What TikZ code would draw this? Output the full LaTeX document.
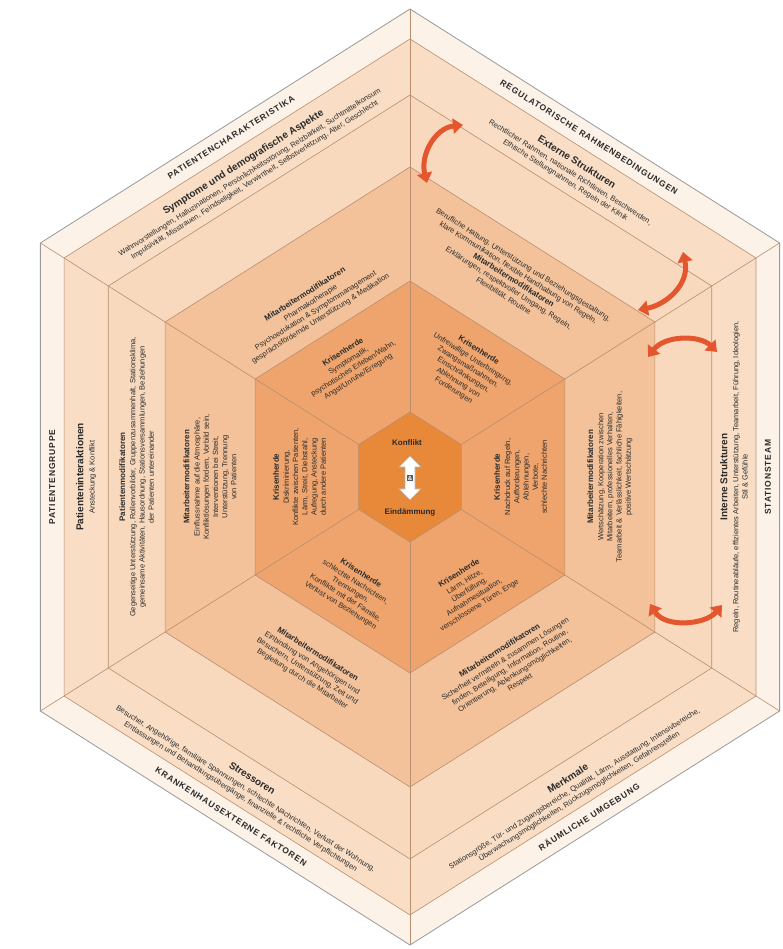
\documentclass[tikz,border=0pt]{standalone}
\usepackage{fontspec}
\setmainfont{Liberation Sans}
\newfontfamily\catfont[LetterSpace=10]{Liberation Sans}
\usetikzlibrary{arrows.meta}
\definecolor{bandA}{HTML}{FDF2E8}
\definecolor{bandB}{HTML}{F9DEC5}
\definecolor{bandC}{HTML}{F8D9BE}
\definecolor{bandD}{HTML}{F3C29A}
\definecolor{bandE}{HTML}{EEA46C}
\definecolor{bandF}{HTML}{E8893A}
\definecolor{edgeC}{HTML}{B98E6E}
\definecolor{txtC}{HTML}{2A2A2A}
\definecolor{arrC}{HTML}{E4572E}
\newcommand\secnode[6]{\node[#5,rotate=#3] (#4) at ({0.79*(#2)*cos(#1)},{0.866*(#2)*sin(#1)}) {#6};}
\newcommand\ttlA[1]{{\fontsize{10}{12}\selectfont\bfseries #1}}
\newcommand\ttlB[1]{{\fontsize{8}{10}\selectfont\bfseries #1}}
\begin{document}
\begin{tikzpicture}[x=1pt,y=1pt,
  cat/.style={font=\catfont\bfseries\fontsize{8.5}{10}\selectfont,text=txtC,inner sep=0pt},
  blk/.style={align=center,font=\fontsize{7.5}{9.2}\selectfont,text=txtC,inner sep=0pt},
  hexline/.style={draw=edgeC,line width=0.6pt},
  swoosh/.style={draw=arrC,line width=5pt,{Triangle[width=15pt,length=10pt]}-{Triangle[width=15pt,length=10pt]}}
]
\useasboundingbox (0,0) rectangle (782,949);
\fill[white] (0,0) rectangle (782,949);
\begin{scope}[shift={(410,472)}]
\foreach \rad/\nn in {468/a,438/b,382/c,310/d,196/e,65/f}{
  \foreach \angv/\idx in {90/1,150/2,210/3,270/4,330/5,30/6}{
    \coordinate (\nn\idx) at ({0.912*\rad*cos(\angv)},{\rad*sin(\angv)});
  }
}
\fill[bandA] (a1)--(a2)--(a3)--(a4)--(a5)--(a6)--cycle;
\fill[bandB] (b1)--(b2)--(b3)--(b4)--(b5)--(b6)--cycle;
\fill[bandC] (c1)--(c2)--(c3)--(c4)--(c5)--(c6)--cycle;
\fill[bandD] (d1)--(d2)--(d3)--(d4)--(d5)--(d6)--cycle;
\fill[bandE] (e1)--(e2)--(e3)--(e4)--(e5)--(e6)--cycle;
\fill[bandF] (f1)--(f2)--(f3)--(f4)--(f5)--(f6)--cycle;
\draw[hexline] (b1)--(b2)--(b3)--(b4)--(b5)--(b6)--cycle;
\draw[hexline] (c1)--(c2)--(c3)--(c4)--(c5)--(c6)--cycle;
\draw[hexline] (d1)--(d2)--(d3)--(d4)--(d5)--(d6)--cycle;
\draw[hexline] (e1)--(e2)--(e3)--(e4)--(e5)--(e6)--cycle;
\draw[hexline] (f1)--(f2)--(f3)--(f4)--(f5)--(f6)--cycle;
\foreach \idx in {1,...,6}{\draw[hexline] (f\idx) -- (a\idx);}
\draw[gray!80,line width=0.8pt] (a1)--(a2)--(a3)--(a4)--(a5)--(a6)--cycle;

% ---------- top-left
\secnode{120}{453}{32.3}{catTL}{cat}{PATIENTENCHARAKTERISTIKA}
\secnode{120}{408}{32.3}{subTL}{blk}{\ttlA{Symptome und demografische Aspekte}\\[2pt]
Wahnvorstellungen, Halluzinationen, Persönlichkeitsstörung, Reizbarkeit, Suchtmittelkonsum\\
Impulsivität, Misstrauen, Feindseligkeit, Verwirrtheit, Selbstverletzung, Alter, Geschlecht}
\secnode{122}{232}{32.3}{maTL}{blk}{\ttlB{Mitarbeitermodifikatoren}\\[1pt]
Pharmakotherapie\\Psychoedukation \& Symptommanagement\\gesprächsfördernde Unterstützung \& Medikation}
\secnode{120}{150}{32.3}{khTL}{blk}{\ttlB{Krisenherde}\\[1pt]
Symptomatik,\\psychotisches Erleben/Wahn,\\Angst/Unruhe/Erregung}

% ---------- top-right
\secnode{60}{453}{-32.3}{catTR}{cat}{REGULATORISCHE RAHMENBEDINGUNGEN}
\secnode{60}{408}{-32.3}{subTR}{blk}{\ttlA{Externe Strukturen}\\[2pt]
Rechtlicher Rahmen, nationale Richtlinien, Beschwerden,\\
Ethische Stellungnahmen, Regeln der Klinik}
\secnode{60}{262}{-32.3}{maTR}{blk}{Berufliche Haltung, Unterstützung und Beziehungsgestaltung,\\
klare Kommunikation, flexible Handhabung von Regeln,\\
\ttlB{Mitarbeitermodifikatoren}\\
Erklärungen, respektvoller Umgang, Regeln,\\
Flexibilität, Routine}
\secnode{60}{142}{-32.3}{khTR}{blk}{\ttlB{Krisenherde}\\[1pt]
Unfreiwillige Unterbringung,\\Zwangsmaßnahmen,\\Einschränkungen,\\Ablehnung von\\Forderungen}

% ---------- right
\secnode{0}{453}{90}{catR}{cat}{STATIONSTEAM}
\secnode{0}{410}{90}{subR}{blk}{\ttlA{Interne Strukturen}\\[2pt]
Regeln, Routineabläufe, effizientes Arbeiten, Unterstützung, Teamarbeit, Führung, Ideologien,\\
Stil \& Gefühle}
\secnode{0}{253}{90}{maR}{blk}{\ttlB{Mitarbeitermodifikatoren}\\[1pt]
Wertschätzung, Kooperation zwischen\\Mitarbeitern, professionelles Verhalten,\\
Teamarbeit \& Verlässlichkeit, fachliche Fähigkeiten,\\positive Wertschätzung}
\secnode{0}{140}{90}{khR}{blk}{\ttlB{Krisenherde}\\[1pt]
Nachdruck auf Regeln,\\Aufforderungen,\\Ablehnungen,\\Verbote,\\schlechte Nachrichten}

% ---------- bottom-right
\secnode{-60}{453}{32.3}{catBR}{cat}{RÄUMLICHE UMGEBUNG}
\secnode{-60}{414}{32.3}{subBR}{blk}{\ttlA{Merkmale}\\[2pt]
Stationsgröße, Tür- und Zugangsbereiche, Qualität, Lärm, Ausstattung, Intensivbereiche,\\
Überwachungsmöglichkeiten, Rückzugsmöglichkeiten, Gefahrenstellen}
\secnode{-60}{253}{32.3}{maBR}{blk}{\ttlB{Mitarbeitermodifikatoren}\\[1pt]
Sicherheit vermitteln \& zusammen Lösungen\\finden, Beteiligung, Information, Routine,\\
Orientierung, Ablenkungsmöglichkeiten,\\Respekt}
\secnode{-60}{150}{32.3}{khBR}{blk}{\ttlB{Krisenherde}\\[1pt]
Lärm, Hitze,\\Überfüllung,\\Aufnahmesituation,\\verschlossene Türen, Enge}

% ---------- bottom-left
\secnode{-120}{453}{-32.3}{catBL}{cat}{KRANKENHAUSEXTERNE FAKTOREN}
\secnode{-120}{414}{-32.3}{subBL}{blk}{\ttlA{Stressoren}\\[2pt]
Besucher, Angehörige, familiäre Spannungen, schlechte Nachrichten, Verlust der Wohnung,\\
Entlassungen und Behandlungsübergänge, finanzielle \& rechtliche Verpflichtungen}
\secnode{-120}{253}{-32.3}{maBL}{blk}{\ttlB{Mitarbeitermodifikatoren}\\[1pt]
Einbindung von Angehörigen und\\Besuchern, Unterstützung, Zeit und\\Begleitung durch die Mitarbeiter}
\secnode{-120}{150}{-32.3}{khBL}{blk}{\ttlB{Krisenherde}\\[1pt]
schlechte Nachrichten,\\Trennungen,\\Konflikte mit der Familie,\\Verlust von Beziehungen}

% ---------- left
\secnode{180}{453}{90}{catL}{cat}{PATIENTENGRUPPE}
\secnode{180}{410}{90}{subL}{blk}{\ttlA{Patienteninteraktionen}\\[2pt]Ansteckung \& Konflikt}
\secnode{180}{346}{90}{pmL}{blk}{\ttlB{Patientenmodifikatoren}\\[1pt]
Gegenseitige Unterstützung, Rollenvorbilder, Gruppenzusammenhalt, Stationsklima,\\
gemeinsame Aktivitäten, Hausordnung, Stationsversammlungen, Beziehungen\\
der Patienten untereinander}
\secnode{180}{253}{90}{maL}{blk}{\ttlB{Mitarbeitermodifikatoren}\\[1pt]
Einflussnahme auf die Atmosphäre,\\Konfliktlösungen fördern, Vorbild sein,\\
Interventionen bei Streit,\\Unterstützung, Trennung\\von Patienten}
\secnode{180}{140}{90}{khL}{blk}{\ttlB{Krisenherde}\\[1pt]
Diskriminierung,\\Konflikte zwischen Patienten,\\Lärm, Streit, Diebstahl,\\Aufregung, Ansteckung\\durch andere Patienten}

% ---------- centre
\node[font=\bfseries\fontsize{8}{9}\selectfont,text=txtC,inner sep=0pt] (konflikt) at (-3,34) {Konflikt};
\node[font=\bfseries\fontsize{8}{9}\selectfont,text=txtC,inner sep=0pt] (eind) at (0,-35) {Eindämmung};
\draw[fill=white,draw=gray!60,line width=0.6pt] (0,21)--(11,10)--(5,10)--(5,-12)--(11,-12)--(0,-23)--(-11,-12)--(-5,-12)--(-5,10)--(-11,10)--cycle;
\node[fill=gray!70!black,text=white,font=\bfseries\fontsize{6}{6}\selectfont,inner sep=1pt] (amp) at (0,-1) {\&};

% ---------- swoosh arrows
\coordinate (s1a) at (53,352); \coordinate (s1b) at (17,294);
\coordinate (s2a) at (273,225); \coordinate (s2b) at (228,167);
\coordinate (s3a) at (238,120); \coordinate (s3b) at (307,125);
\coordinate (s4a) at (240,-127); \coordinate (s4b) at (312,-128);
\draw[swoosh] (s1a) .. controls (25,349) and (10,322) .. (s1b);
\draw[swoosh] (s2a) .. controls (280,192) and (255,172) .. (s2b);
\draw[swoosh] (s3a) .. controls (255,142) and (290,142) .. (s3b);
\draw[swoosh] (s4a) .. controls (255,-151) and (295,-148) .. (s4b);
\end{scope}
\end{tikzpicture}
\end{document}
